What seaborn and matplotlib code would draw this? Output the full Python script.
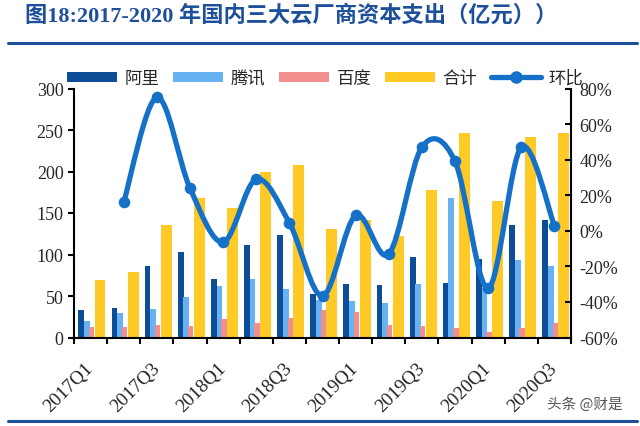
import numpy as np
import matplotlib
matplotlib.use("Agg")
import matplotlib.pyplot as plt
import seaborn as sns
from matplotlib.path import Path
from matplotlib.patches import PathPatch, Patch
from matplotlib.lines import Line2D
from matplotlib.ticker import FuncFormatter, MultipleLocator

# ---------------- data ----------------
quarters = ["2017Q1", "2017Q2", "2017Q3", "2017Q4",
            "2018Q1", "2018Q2", "2018Q3", "2018Q4",
            "2019Q1", "2019Q2", "2019Q3", "2019Q4",
            "2020Q1", "2020Q2", "2020Q3"]
ali = [33, 35, 86, 103, 70, 111, 123, 53, 64, 63, 97, 66, 95, 135, 142]
tencent = [20, 29, 34, 49, 62, 70, 59, 45, 44, 42, 65, 168, 60, 93, 86]
baidu = [13, 13, 15, 14, 22, 17, 24, 33, 31, 15, 14, 11, 7, 11, 17]
total = [69, 79, 136, 168, 156, 200, 208, 131, 142, 122, 178, 246, 165, 242, 246]
qoq = [np.nan, 16, 75, 24, -6.4, 29, 4.5, -36.6, 8.6, -13, 47, 39, -32.3, 47, 2.8]
series_names = ["阿里", "腾讯", "百度", "合计", "环比"]
title = "图18:2017-2020 年国内三大云厂商资本支出（亿元））"

# ---------------- style ----------------
sns.set_theme(style="ticks")
plt.rcParams["font.family"] = ["Liberation Serif", "Noto Sans CJK SC", "DejaVu Sans"]

c_ali = "#0D4D97"
c_ten = "#66B2F2"
c_bai = "#F28E8E"
c_tot = "#FFC926"
c_line = "#1570C8"
c_title = "#1E4F9A"

fig = plt.figure(figsize=(6.4, 4.27), dpi=100)
fig.patch.set_facecolor("white")
L, R, T, B = 74, 571, 89.5, 338.5
ax = fig.add_axes([L / 640, 1 - B / 427, (R - L) / 640, (B - T) / 427])
ax.set_facecolor("white")

k = np.arange(len(quarters))
specs = [(ali, c_ali, -0.28, 0.175), (tencent, c_ten, -0.11, 0.175),
         (baidu, c_bai, 0.025, 0.16), (total, c_tot, 0.285, 0.33)]
for vals, col, off, w in specs:
    sns.barplot(x=k + off, y=vals, native_scale=True, width=w, color=col,
                saturation=1, errorbar=None, linewidth=0, ax=ax)

ax.set_xlim(-0.5, len(quarters) - 0.5)
ax.set_ylim(0, 300)
ax.yaxis.set_major_locator(MultipleLocator(50))
ax.set_xticks(np.arange(-0.5, len(quarters), 1.0))
ax.set_xticklabels([])
ax.set_xticks(k[::2], minor=True)
ax.set_xticklabels(quarters[::2], minor=True, rotation=45, ha="right",
                   va="center", rotation_mode="anchor", fontsize=13.8)
ax.tick_params(axis="x", which="minor", length=0, pad=20)
ax.tick_params(axis="x", which="major", direction="out", length=4, width=1.5, color="black")
ax.tick_params(axis="y", direction="out", length=4, width=1.5, color="black", labelsize=13)
ax.set_xlabel("")
ax.set_ylabel("")
for s in ["left", "bottom"]:
    ax.spines[s].set_color("black")
    ax.spines[s].set_linewidth(1.5)
ax.spines["top"].set_visible(False)
ax.spines["right"].set_visible(False)

# secondary axis for ratio
ax2 = ax.twinx()
ax2.set_ylim(-60, 80)
ax2.yaxis.set_major_locator(MultipleLocator(20))
ax2.yaxis.set_major_formatter(FuncFormatter(lambda v, p: f"{v:.0f}%"))
ax2.tick_params(axis="y", direction="in", length=4, width=1.5, color="black", labelsize=13, pad=6)
ax2.spines["right"].set_color("black")
ax2.spines["right"].set_linewidth(1.5)
for s in ["left", "top", "bottom"]:
    ax2.spines[s].set_visible(False)
ax2.set_ylabel("")

# smoothed line (Catmull-Rom -> cubic Bezier) through the ratio points
qx = k.astype(float)[1:]
qy = np.array(qoq, dtype=float)[1:]
P = np.column_stack([qx, qy])
verts = [P[0]]
codes = [Path.MOVETO]
n = len(P)
for i in range(n - 1):
    p0 = P[i - 1] if i > 0 else P[i]
    p1 = P[i]
    p2 = P[i + 1]
    p3 = P[i + 2] if i + 2 < n else P[i + 1]
    c1 = p1 + (p2 - p0) / 6.0
    c2 = p2 - (p3 - p1) / 6.0
    verts += [c1, c2, p2]
    codes += [Path.CURVE4] * 3
ax2.add_patch(PathPatch(Path(verts, codes), facecolor="none", edgecolor=c_line,
                        lw=3.8, capstyle="round", joinstyle="round", zorder=5))
sns.scatterplot(x=qx, y=qy, color=c_line, s=70, linewidth=0, zorder=6, ax=ax2, legend=False)
ax2.set_xlim(-0.5, len(quarters) - 0.5)

# legend
handles = [Patch(facecolor=c_ali, edgecolor="none"),
           Patch(facecolor=c_ten, edgecolor="none"),
           Patch(facecolor=c_bai, edgecolor="none"),
           Patch(facecolor=c_tot, edgecolor="none"),
           Line2D([0], [0], color=c_line, lw=3.8, marker="o", markersize=8)]
fig.legend(handles, series_names, loc="center", bbox_to_anchor=(0.508, 1 - 79 / 427),
           ncol=5, frameon=False, handlelength=2.9, handleheight=0.55,
           handletextpad=0.45, columnspacing=0.75, borderaxespad=0,
           prop={"family": ["Noto Sans CJK SC"], "size": 12.5})

# title and decorative rules
fig.text(25 / 640, 1 - 16 / 427, title, fontsize=16, fontweight="bold",
         color=c_title, va="center", ha="left",
         family=["Liberation Serif", "Noto Sans CJK SC"])
fig.add_artist(Line2D([8 / 640, 637 / 640], [1 - 44 / 427] * 2, color=c_title, lw=2.2))
fig.add_artist(Line2D([8 / 640, 637 / 640], [1 - 422 / 427] * 2, color=c_title, lw=2.2))
fig.text(585 / 640, 1 - 405 / 427, "头条 @财是", fontsize=10.5, color="#555555",
         ha="center", va="center", family=["Noto Sans CJK SC"])

fig.savefig("out.png", dpi=100, facecolor="white")
